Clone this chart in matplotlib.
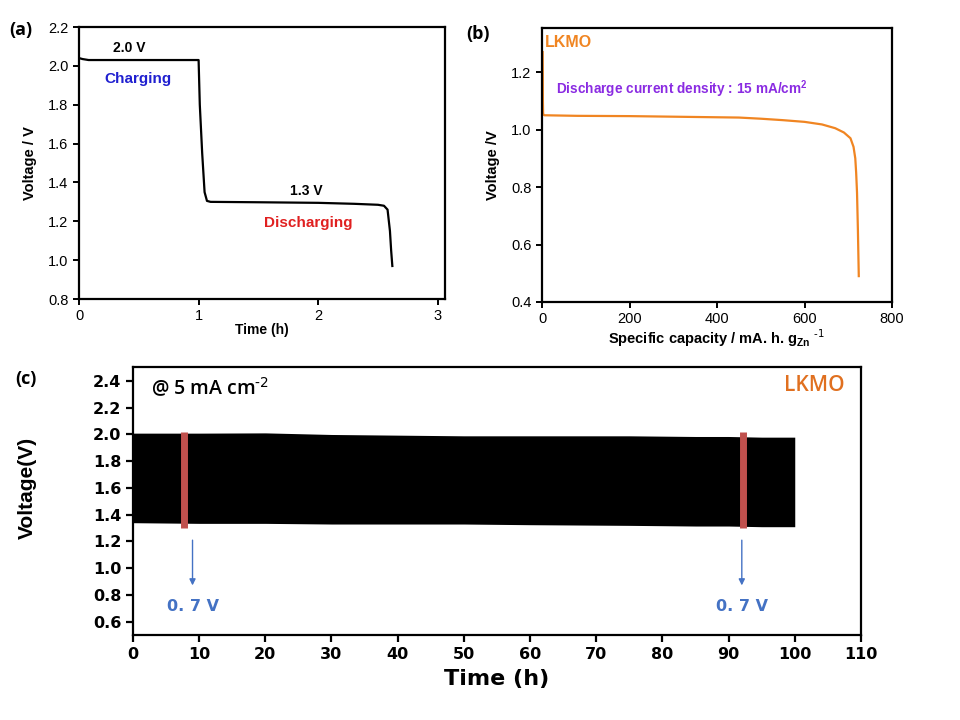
import matplotlib
matplotlib.use("Agg")
import matplotlib.pyplot as plt
import numpy as np

# ---- Panel (a) data: charge/discharge curve ----
a_time = [0.0, 0.03, 0.08, 0.5, 0.95, 1.0, 1.01, 1.03, 1.05, 1.07, 1.1, 1.5, 2.0, 2.3, 2.5, 2.55, 2.58, 2.6, 2.61, 2.62]
a_volt = [2.04, 2.035, 2.03, 2.03, 2.03, 2.03, 1.80, 1.55, 1.35, 1.305, 1.30, 1.298, 1.295, 1.29, 1.285, 1.28, 1.26, 1.15, 1.05, 0.97]

# ---- Panel (b) data: discharge curve ----
b_cap = [1.5, 1.8, 2.0, 2.5, 5, 80, 200, 300, 400, 450, 500, 550, 600, 640, 670, 690, 705, 712, 716, 718, 720, 722, 723, 724]
b_volt = [1.27, 1.2, 1.1, 1.055, 1.05, 1.048, 1.047, 1.045, 1.043, 1.042, 1.038, 1.033, 1.027, 1.018, 1.005, 0.99, 0.97, 0.94, 0.90, 0.85, 0.78, 0.65, 0.57, 0.49]

# ---- Panel (c) data: cycling envelope ----
c_time = [0, 10, 20, 30, 40, 50, 60, 75, 85, 90, 95, 100]
c_upper = [2.01, 2.01, 2.012, 2.0, 1.995, 1.99, 1.99, 1.99, 1.985, 1.985, 1.98, 1.98]
c_lower = [1.34, 1.335, 1.335, 1.33, 1.33, 1.33, 1.325, 1.32, 1.315, 1.315, 1.31, 1.31]
c_marks = [7.7, 92.2]
c_mark_lo = 1.31
c_mark_hi = 2.01
c_arrow_x = [9.0, 92.0]

fig = plt.figure(figsize=(9.6, 7.2), dpi=100)

sans = ['Liberation Sans', 'DejaVu Sans']
cal = ['Open Sans', 'DejaVu Sans']

# ---------------- Panel (a) ----------------
axa = fig.add_axes([0.0823, 0.5847, 0.3812, 0.3778])
axa.plot(a_time, a_volt, color='black', lw=1.6)
axa.set_xlim(0, 3.06)
axa.set_ylim(0.8, 2.2)
axa.set_xticks([0, 1, 2, 3])
axa.set_yticks(np.arange(0.8, 2.21, 0.2))
axa.set_yticklabels([f"{v:.1f}" for v in np.arange(0.8, 2.21, 0.2)])
for s in axa.spines.values():
    s.set_linewidth(1.6)
axa.tick_params(direction='out', width=1.4, length=4, labelsize=10.5)
for lab in axa.get_xticklabels() + axa.get_yticklabels():
    lab.set_family(sans)
axa.set_xlabel('Time (h)', fontsize=10, fontweight='bold', family=sans, labelpad=0)
axa.set_ylabel('Voltage / V', fontsize=10.5, fontweight='bold', family=sans, labelpad=8)
axa.text(0.42, 2.093, '2.0 V', fontsize=10, fontweight='bold', ha='center', va='center', family=sans)
axa.text(0.49, 1.934, 'Charging', fontsize=11, fontweight='bold', color='#2020d0', ha='center', va='center', family=sans)
axa.text(1.9, 1.357, '1.3 V', fontsize=10, fontweight='bold', ha='center', va='center', family=sans)
axa.text(1.92, 1.19, 'Discharging', fontsize=11, fontweight='bold', color='#e02020', ha='center', va='center', family=sans)
fig.text(0.010, 0.958, '(a)', fontsize=13, fontweight='bold', family=cal, va='center')

# ---------------- Panel (b) ----------------
axb = fig.add_axes([0.5646, 0.5806, 0.3646, 0.3806])
axb.plot(b_cap, b_volt, color='#f08522', lw=1.6)
axb.set_xlim(0, 800)
axb.set_ylim(0.4, 1.354)
axb.set_xticks([0, 200, 400, 600, 800])
axb.set_yticks([0.4, 0.6, 0.8, 1.0, 1.2])
axb.set_yticklabels(['0.4', '0.6', '0.8', '1.0', '1.2'])
for s in axb.spines.values():
    s.set_linewidth(1.6)
axb.tick_params(direction='out', width=1.4, length=4, labelsize=10.5)
for lab in axb.get_xticklabels() + axb.get_yticklabels():
    lab.set_family(sans)
axb.set_xlabel(r'Specific capacity / mA. h. g$_{\mathregular{Zn}}$ $^{\text{-1}}$', fontsize=10.5,
               fontweight='bold', family=sans, labelpad=1)
axb.set_ylabel('Voltage /V', fontsize=10.5, fontweight='bold', family=sans, labelpad=8)
axb.text(6, 1.305, 'LKMO', fontsize=11.5, fontweight='bold', color='#f08522', ha='left', va='center', family=sans)
axb.text(32, 1.14, r'Discharge current density : 15 mA/cm$^{\mathregular{2}}$', fontsize=9.8, fontweight='bold',
         color='#8a2be2', ha='left', va='center', family=sans)
fig.text(0.486, 0.953, '(b)', fontsize=13, fontweight='bold', family=cal, va='center')

# ---------------- Panel (c) ----------------
wide = ['DejaVu Sans']
axc = fig.add_axes([0.1385, 0.1181, 0.7583, 0.3722])
axc.fill_between(c_time, c_lower, c_upper, color='black', lw=0)
for xm in c_marks:
    axc.plot([xm, xm], [c_mark_lo - 0.01, c_mark_hi + 0.005], color='#c0504d', lw=5, solid_capstyle='butt')
for xa in c_arrow_x:
    axc.annotate('', xy=(xa, 0.85), xytext=(xa, 1.23),
                 arrowprops=dict(arrowstyle='-|>', color='#4472c4', lw=1.0, mutation_scale=9))
    axc.text(xa, 0.715, '0. 7 V', fontsize=11.5, fontweight='bold', color='#4472c4', ha='center', va='center', family=wide)
axc.set_xlim(0, 110)
axc.set_ylim(0.5, 2.505)
axc.set_xticks(np.arange(0, 111, 10))
axc.set_yticks(np.arange(0.6, 2.41, 0.2))
axc.set_yticklabels([f"{v:.1f}" for v in np.arange(0.6, 2.41, 0.2)])
for s in axc.spines.values():
    s.set_linewidth(1.6)
axc.tick_params(direction='out', width=1.6, length=5, labelsize=11.5)
for lab in axc.get_xticklabels() + axc.get_yticklabels():
    lab.set_family(wide)
    lab.set_fontweight('bold')
axc.set_xlabel('Time (h)', fontsize=16, fontweight='bold', family=wide, labelpad=5)
axc.set_ylabel('Voltage(V)', fontsize=15, fontweight='bold', family=['Liberation Sans Narrow', 'Liberation Sans'])
axc.yaxis.set_label_coords(-0.132, 0.55)
axc.text(2.8, 2.345, r'@ 5 mA cm$^{\text{-2}}$', fontsize=14, fontweight='semibold', ha='left', va='center',
         family=cal)
axc.text(107.5, 2.37, 'LKMO', fontsize=15, fontweight='semibold', color='#e07020', ha='right', va='center', family=cal)
fig.text(0.016, 0.474, '(c)', fontsize=13, fontweight='bold', family=cal, va='center')

fig.savefig('out.png', dpi=100)
